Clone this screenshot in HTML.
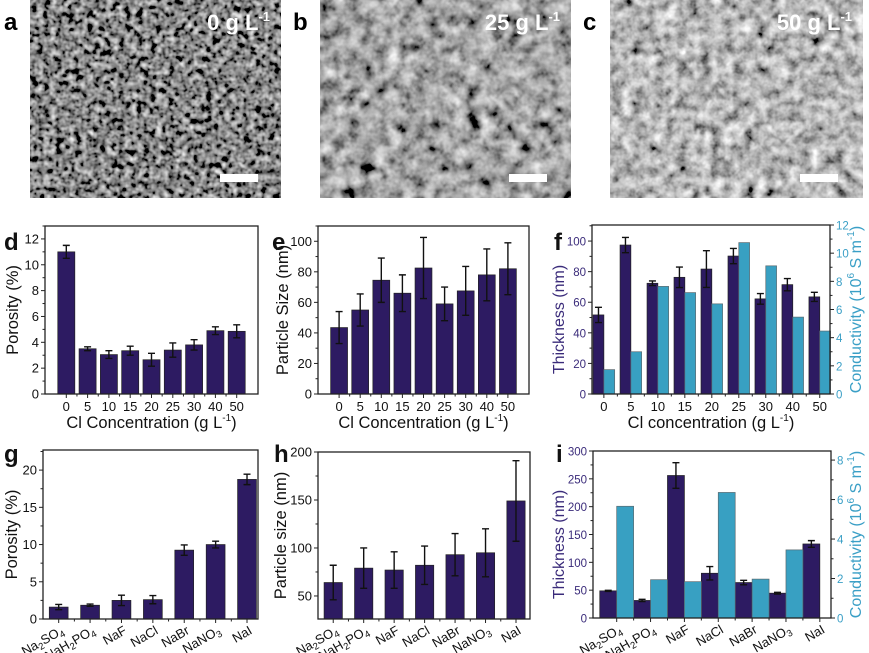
<!DOCTYPE html>
<html><head><meta charset="utf-8"><style>
html,body{margin:0;padding:0;background:#fff;}
svg{display:block;font-family:"Liberation Sans",Arial,sans-serif;}
</style></head><body>
<svg id="fig" width="869" height="653" viewBox="0 0 869 653" xmlns="http://www.w3.org/2000/svg">
<defs>
<filter id="semA" x="0" y="0" width="100%" height="100%"><feTurbulence type="fractalNoise" baseFrequency="0.16" numOctaves="2" seed="3"/><feColorMatrix type="matrix" values="0.33 0.33 0.33 0 0  0.33 0.33 0.33 0 0  0.33 0.33 0.33 0 0  0 0 0 0 1"/><feComponentTransfer><feFuncR type="linear" slope="2.4" intercept="-0.95"/><feFuncG type="linear" slope="2.4" intercept="-0.95"/><feFuncB type="linear" slope="2.4" intercept="-0.95"/></feComponentTransfer></filter>
<filter id="semB" x="0" y="0" width="100%" height="100%"><feTurbulence type="fractalNoise" baseFrequency="0.075" numOctaves="3" seed="7"/><feColorMatrix type="matrix" values="0.33 0.33 0.33 0 0  0.33 0.33 0.33 0 0  0.33 0.33 0.33 0 0  0 0 0 0 1"/><feComponentTransfer><feFuncR type="linear" slope="2.2" intercept="-0.72"/><feFuncG type="linear" slope="2.2" intercept="-0.72"/><feFuncB type="linear" slope="2.2" intercept="-0.72"/></feComponentTransfer></filter>
<filter id="semC" x="0" y="0" width="100%" height="100%"><feTurbulence type="fractalNoise" baseFrequency="0.09" numOctaves="3" seed="11"/><feColorMatrix type="matrix" values="0.33 0.33 0.33 0 0  0.33 0.33 0.33 0 0  0.33 0.33 0.33 0 0  0 0 0 0 1"/><feComponentTransfer><feFuncR type="linear" slope="2.2" intercept="-0.62"/><feFuncG type="linear" slope="2.2" intercept="-0.62"/><feFuncB type="linear" slope="2.2" intercept="-0.62"/></feComponentTransfer></filter>
</defs>
<g><rect x="30" y="0" width="251" height="198" fill="#555"/><rect x="30" y="0" width="251" height="198" filter="url(#semA)"/></g>
<g><rect x="320" y="0" width="251" height="198" fill="#888"/><rect x="320" y="0" width="251" height="198" filter="url(#semB)"/></g>
<g><rect x="610" y="0" width="253" height="198" fill="#999"/><rect x="610" y="0" width="253" height="198" filter="url(#semC)"/></g>
<text x="4" y="30" font-size="24" font-weight="bold">a</text>
<text x="293" y="30" font-size="24" font-weight="bold">b</text>
<text x="583" y="30" font-size="24" font-weight="bold">c</text>
<text x="270" y="30" font-size="22" font-weight="bold" fill="#fff" text-anchor="end">0 g L<tspan font-size="13" dy="-9">-1</tspan></text>
<text x="560" y="30" font-size="22" font-weight="bold" fill="#fff" text-anchor="end">25 g L<tspan font-size="13" dy="-9">-1</tspan></text>
<text x="852" y="30" font-size="22" font-weight="bold" fill="#fff" text-anchor="end">50 g L<tspan font-size="13" dy="-9">-1</tspan></text>
<rect x="220" y="174" width="38" height="8" fill="#fff"/>
<rect x="509" y="174" width="38" height="8" fill="#fff"/>
<rect x="800" y="174" width="38" height="8" fill="#fff"/>
<g id="charts"></g>
</svg>
<script>
// ---- data ----
const clCats = ["0","5","10","15","20","25","30","40","50"];
const saltCats = [["Na","2","SO","4"],["NaH","2","PO","4"],["NaF"],["NaCl"],["NaBr"],["NaNO","3"],["NaI"]];
const dPorosity = [11.0,3.5,3.05,3.35,2.65,3.4,3.8,4.9,4.85];
const dPorosityErr = [0.5,0.15,0.3,0.35,0.5,0.55,0.4,0.3,0.5];
const eSize = [43.5,55,74.5,66,82.5,59,67.5,78,82];
const eSizeErr = [10.5,10.5,14.5,12,20,11,16,17,17];
const fThick = [51.7,97.4,72.4,76.3,81.7,90.2,62.2,71.5,63.5];
const fThickErr = [5,5,1.5,6.7,12,5,3.5,4,3];
const fCond = [1.73,3.0,7.64,7.2,6.4,10.75,9.1,5.46,4.47];
const gPorosity = [1.6,1.85,2.5,2.6,9.25,10.0,18.75];
const gPorosityErr = [0.35,0.15,0.7,0.55,0.7,0.45,0.7];
const hSize = [64,79,77,82,93,95,149];
const hSizeErr = [18,21,19,20,22,25,42];
const iThick = [48.8,31.5,256,80.4,63.7,44.6,133];
const iThickErr = [1,2,23,12,4,1.5,6];
const iCond = [5.66,1.94,1.84,6.36,1.97,3.45,0];
const dTicks = [0,2,4,6,8,10,12];
const eTicks = [0,20,40,60,80,100];
const fThickTicks = [0,20,40,60,80,100];
const fCondTicks = [0,2,4,6,8,10,12];
const gTicks = [0,5,10,15,20];
const hTicks = [50,100,150,200];
const iThickTicks = [0,50,100,150,200,250,300];
const iCondTicks = [0,2,4,6,8];

const NS="http://www.w3.org/2000/svg";
const root=document.getElementById('charts');
const PURPLE="#2d1b62", CYAN="#38a0c2", PTXT="#3a2b7a", CTXT="#3a9fc6";
function mk(tag,attrs,parent){const e=document.createElementNS(NS,tag);for(const k in attrs)e.setAttribute(k,attrs[k]);(parent||root).appendChild(e);return e;}

function panel(o){
  const g=mk('g',{});
  
  
  const X=i=>o.x0+(i-o.xd[0])/(o.xd[1]-o.xd[0])*(o.x1-o.x0);
  const Y=v=>o.y1-(v-o.yd[0])/(o.yd[1]-o.yd[0])*(o.y1-o.y0);
  const Y2=o.y2d?(v=>o.y1-(v-o.y2d[0])/(o.y2d[1]-o.y2d[0])*(o.y1-o.y0)):null;
  const n=o.cats.length;
  const tfs=o.tfs||13;
  o.series.forEach(s=>{
    const yf=s.axis2?Y2:Y;
    s.vals.forEach((v,i)=>{
      const cx=X(i)+s.off*(X(1)-X(0)), w=s.w*(X(1)-X(0));
      const r=mk('rect',{x:cx-w/2,y:yf(v),width:w,height:Math.max(0,o.y1-yf(v)),fill:s.color,stroke:s.axis2?'#5a6a70':'#222','stroke-width':0.7},g);
      
      
      if(s.err){
        const e=s.err[i],yt=yf(v+e),yb=yf(v-e);
        const eb=mk('path',{d:`M${cx},${yt}V${yb}M${cx-3.5},${yt}H${cx+3.5}M${cx-3.5},${yb}H${cx+3.5}`,stroke:'#111','stroke-width':1.4,fill:'none'},g);
        
        
      }
    });
  });
  const fr=mk('rect',{x:o.x0,y:o.y0,width:o.x1-o.x0,height:o.y1-o.y0,fill:'none',stroke:'#222','stroke-width':1.3},g);
  
  
  const ytk=(ticks,yf,side,col)=>{
    const step=ticks[1]-ticks[0];
    ticks.forEach((t,k)=>{
      const y=yf(t); if(y<o.y0-0.5) return;
      const x=side?o.x1:o.x0, d=side?1:-1;
      mk('line',{x1:x,x2:x+4*d,y1:y,y2:y,stroke:'#222','stroke-width':1},g);
      const ym=yf(t+step/2); if(ym>=o.y0) mk('line',{x1:x,x2:x+2.5*d,y1:ym,y2:ym,stroke:'#222','stroke-width':1},g);
      const tl=mk('text',{x:x+6*d,y:y+4.5,'font-size':tfs,'text-anchor':side?'start':'end',fill:col},g);
      tl.textContent=t;
      
      
    });
  };
  ytk(o.yticks,Y,0,o.ycol||'#111');
  if(o.y2d) ytk(o.y2ticks,Y2,1,CTXT);
  for(let i=0;i<n;i++){
    const x=X(i);
    mk('line',{x1:x,x2:x,y1:o.y1,y2:o.y1+4,stroke:'#222','stroke-width':1},g);
    if(i<n-1){const xm=X(i+0.5);mk('line',{x1:xm,x2:xm,y1:o.y1,y2:o.y1+2.5,stroke:'#222','stroke-width':1},g);}
    let t;
    if(o.rot){
      t=mk('text',{x:x+6,y:o.y1+14,'font-size':13,'text-anchor':'end',transform:`rotate(-30 ${x+6} ${o.y1+14})`,fill:'#111'},g);
      o.cats[i].forEach((p,j)=>{const ts=mk('tspan',j%2?{'font-size':9.5,dy:3}:(j>0?{dy:-3}:{}),t);ts.textContent=p;});
    } else {
      t=mk('text',{x:x,y:o.y1+17,'font-size':13,'text-anchor':'middle',fill:'#111'},g);
      t.textContent=o.cats[i];
    }
    
    
  }
  if(o.xtitle){
    const xt=mk('text',{x:(o.x0+o.x1)/2,y:o.y1+34,'font-size':16.5,'text-anchor':'middle',fill:'#111'},g);
    xt.innerHTML=o.xtitle;
    
    
  }
  const yt=mk('text',{x:0,y:0,'font-size':o.ytfs||16.5,'text-anchor':'middle',fill:o.ycol||'#111',transform:`translate(${o.ytx},${(o.y0+o.y1)/2+(o.ytdy||0)}) rotate(-90)`},g);
  yt.textContent=o.ytitle;
  
  
  if(o.y2title){
    const y2=mk('text',{x:0,y:0,'font-size':16,'text-anchor':'middle',fill:CTXT,transform:`translate(${o.y2tx},${(o.y0+o.y1)/2}) rotate(-90)`},g);
    y2.innerHTML='Conductivity (10<tspan font-size="10" dy="-7">6</tspan><tspan dy="7"> S m</tspan><tspan font-size="10" dy="-7">-1</tspan><tspan dy="7">)</tspan>';
    
    
  }
  const pl=mk('text',{x:o.lx,y:o.ly,'font-size':24,'font-weight':'bold',fill:'#111'},g);
  pl.textContent=o.letter;
  
  
}
const clTitle='Cl Concentration (g L<tspan font-size="10" dy="-7">-1</tspan><tspan dy="7">)</tspan>';
panel({name:'chart-d-porosity',letter:'d',lx:4,ly:250,x0:45,x1:258,y0:226,y1:394,xd:[-1,9],yd:[0,13.0],cats:clCats,
  series:[{key:'porosity',vals:dPorosity,err:dPorosityErr,color:PURPLE,off:0,w:0.8}],yticks:dTicks,ytitle:'Porosity (%)',ytx:18,xtitle:clTitle});
panel({name:'chart-e-particle-size',letter:'e',lx:272,ly:250,x0:318,x1:529,y0:226,y1:394,xd:[-1,9],yd:[0,110],cats:clCats,
  series:[{key:'particle-size',vals:eSize,err:eSizeErr,color:PURPLE,off:0,w:0.8}],yticks:eTicks,ytitle:'Particle Size (nm)',ytx:288,xtitle:clTitle});
panel({name:'chart-f-thickness-conductivity',letter:'f',lx:554,ly:250,x0:592,x1:830,y0:225,y1:394,xd:[-0.44,8.38],yd:[0,110.5],y2d:[0,12],cats:clCats,tfs:11.5,
  series:[{key:'thickness',vals:fThick,err:fThickErr,color:PURPLE,off:-0.2,w:0.4},{key:'conductivity',vals:fCond,color:CYAN,off:0.2,w:0.4,axis2:true}],
  yticks:fThickTicks,y2ticks:fCondTicks,ycol:PTXT,ytitle:'Thickness (nm)',ytx:564,ytfs:16,ytdy:10,y2title:true,y2tx:861,xtitle:'Cl concentration (g L<tspan font-size="10" dy="-7">-1</tspan><tspan dy="7">)</tspan>'});
panel({name:'chart-g-porosity-salts',letter:'g',lx:4,ly:462,x0:43,x1:258,y0:450,y1:619,xd:[-0.5,6.35],yd:[0,22.7],cats:saltCats,rot:true,
  series:[{key:'porosity',vals:gPorosity,err:gPorosityErr,color:PURPLE,off:0,w:0.6}],yticks:gTicks,ytitle:'Porosity (%)',ytx:17});
panel({name:'chart-h-particle-size-salts',letter:'h',lx:274,ly:462,x0:318,x1:530,y0:452,y1:619,xd:[-0.5,6.46],yd:[26,200],cats:saltCats,rot:true,
  series:[{key:'particle-size',vals:hSize,err:hSizeErr,color:PURPLE,off:0,w:0.6}],yticks:hTicks,ytitle:'Particle size (nm)',ytx:286});
panel({name:'chart-i-thickness-conductivity-salts',letter:'i',lx:556,ly:462,x0:593,x1:831,y0:451,y1:618,xd:[-0.7,6.33],yd:[0,300],y2d:[0,8.46],cats:saltCats,rot:true,tfs:11.5,
  series:[{key:'thickness',vals:iThick,err:iThickErr,color:PURPLE,off:-0.25,w:0.5},{key:'conductivity',vals:iCond,color:CYAN,off:0.25,w:0.5,axis2:true}],
  yticks:iThickTicks,y2ticks:iCondTicks,ycol:PTXT,ytitle:'Thickness (nm)',ytx:564,ytfs:16,ytdy:10,y2title:true,y2tx:861});
</script>
</body></html>
